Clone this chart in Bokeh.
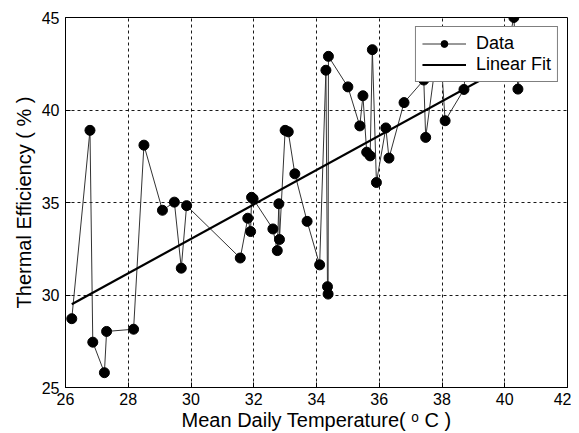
from bokeh.plotting import figure
from bokeh.models import Legend, LegendItem, FixedTicker, Range1d
from bokeh.embed import file_html
from bokeh.resources import INLINE

# Data (sorted by temperature)
temp = [26.20, 26.78, 26.87, 27.24, 27.31, 28.17, 28.50, 29.09, 29.47, 29.69,
        29.86, 31.57, 31.81, 31.90, 31.93, 31.98, 32.61, 32.75, 32.80, 32.82,
        33.00, 33.10, 33.31, 33.70, 34.10, 34.30, 34.35, 34.37, 34.38, 35.00,
        35.38, 35.48, 35.60, 35.71, 35.78, 35.91, 36.21, 36.31, 36.79, 37.42,
        37.48, 37.80, 37.95, 38.10, 38.70, 38.78, 39.91, 40.29, 40.42, 40.55]
eff = [28.72, 38.90, 27.45, 25.80, 28.03, 28.15, 38.10, 34.58, 35.02, 31.45,
       34.83, 32.00, 34.15, 33.43, 35.28, 35.20, 33.57, 32.40, 34.93, 33.00,
       38.90, 38.82, 36.55, 33.98, 31.63, 42.15, 30.45, 30.05, 42.90, 41.25,
       39.14, 40.77, 37.72, 37.52, 43.26, 36.08, 39.03, 37.40, 40.40, 41.62,
       38.52, 42.60, 43.30, 39.42, 41.11, 43.00, 41.95, 45.00, 41.13, 43.00]

fit_x = [26.2, 40.4]
fit_y = [29.5, 42.7]

x_ticks = [26, 28, 30, 32, 34, 36, 38, 40, 42]
y_ticks = [25, 30, 35, 40, 45]

FONT = "Liberation Sans"

p = figure(width=571, height=433, output_backend="svg", toolbar_location=None,
           x_range=Range1d(26, 42), y_range=Range1d(25, 45),
           min_border_left=65, min_border_right=4, min_border_top=17,
           min_border_bottom=45)
p.background_fill_color = "white"
p.border_fill_color = "white"
p.outline_line_color = "black"
p.outline_line_width = 1

for ax in (p.xaxis[0], p.yaxis[0]):
    ax.major_tick_in = 5
    ax.major_tick_out = 0
    ax.minor_tick_line_color = None
    ax.axis_line_color = "black"
    ax.major_label_text_font = FONT
    ax.major_label_text_font_size = "16px"
    ax.major_label_text_color = "black"
    ax.axis_label_text_font = FONT
    ax.axis_label_text_font_size = "20px"
    ax.axis_label_text_font_style = "normal"
    ax.axis_label_text_color = "black"

p.xaxis.ticker = FixedTicker(ticks=x_ticks)
p.yaxis.ticker = FixedTicker(ticks=y_ticks)
p.xaxis.major_label_standoff = 5
p.xaxis.axis_label_standoff = 1
p.yaxis.major_label_standoff = 6
p.yaxis.axis_label_standoff = 4
p.xaxis.axis_label = "Mean Daily Temperature( \u1d52 C )"
p.yaxis.axis_label = "Thermal Efficiency ( % )"

p.grid.grid_line_color = "black"
p.grid.grid_line_dash = "3 3"
p.grid.grid_line_width = 1
p.grid.grid_line_alpha = 0.9

data_line = p.line(temp, eff, line_color="#333333", line_width=1)
data_pts = p.scatter(temp, eff, size=10, fill_color="black", line_color="black")
fit_line = p.line(fit_x, fit_y, line_color="black", line_width=2.2)

legend = Legend(items=[LegendItem(label="Data", renderers=[data_line, data_pts]),
                       LegendItem(label="Linear Fit", renderers=[fit_line])],
                location="top_right")
legend.label_text_font = FONT
legend.label_text_font_size = "18px"
legend.label_text_color = "black"
legend.border_line_color = "black"
legend.border_line_width = 1
legend.background_fill_alpha = 1
legend.glyph_width = 44
legend.glyph_height = 17
legend.label_height = 17
legend.spacing = 0
legend.padding = 6
legend.margin = 9
legend.label_standoff = 10
p.add_layout(legend)

open("out.html", "w").write(file_html(p, INLINE))
